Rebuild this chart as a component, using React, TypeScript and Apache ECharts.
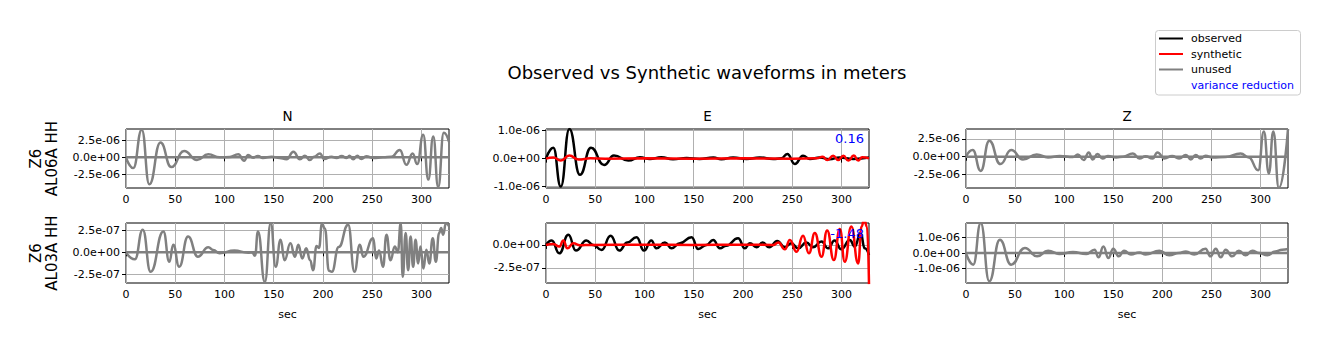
import React, { useEffect, useRef } from 'react';
import * as echarts from 'echarts';

// ---------- data ----------
const TIME_TICKS = [0, 50, 100, 150, 200, 250, 300];
const T_MAX = 328;
const COMPONENTS = ['N', 'E', 'Z'];
const STATIONS = ['Z6\nAL06A HH', 'Z6\nAL03A HH'];
const LEGEND_ITEMS = ['observed', 'synthetic', 'unused', 'variance reduction'];

// Row 1 (AL06A), values in 1e-6 m
const N1_OBS = [[0,0],[7.4,-1.6],[16,4.1],[23.7,-4.0],[35,2.2],[46,-1.45],[59,0.92],[72,-0.4],[83.6,0.44],[95,0],[105.5,0.05],[114,0.44],[120,-0.5],[124,0.34],[129,-0.05],[134,0.2],[139,-0.1],[148,0.1],[156,-0.1],[163,-0.3],[170,0.83],[176.6,-0.3],[181.7,0.25],[186.7,-0.4],[191,0.1],[197,0.58],[201,-0.25],[208.7,0.1],[213.8,-0.1],[219,0.2],[224,-0.1],[227,0.25],[230.7,-0.3],[234.8,0.25],[239,-0.25],[244,0.15],[251,-0.1],[261,0],[269.6,0.1],[278,1.07],[284.8,-1.1],[291,0.58],[295.7,-1.0],[301.8,3.35],[307,-3.3],[312,3.1],[317,-4.4],[322.7,3.64],[328,2.3]];
const N1_SYN = [[0,0],[328,0]];
const E1_OBS = [[0,0],[7.4,0.39],[15,-1.0],[23.7,1.06],[34.5,-0.58],[45.7,0.39],[59,-0.23],[69,0.11],[83.6,-0.07],[95.4,0.05],[105.5,-0.01],[117,0.05],[129,-0.02],[142.8,0.02],[156,-0.01],[170,0.04],[178,-0.02],[190,0.04],[203.7,-0.01],[217,0.04],[230.7,-0.01],[239,0.01],[245,0.17],[252.7,-0.19],[261,0.1],[268,-0.01],[278,0.04],[288,-0.02],[298,0.04],[312,-0.01],[328,0.04]];
const E1_SYN = [[0,0],[7.4,0.04],[15,-0.07],[23.7,0.11],[33,-0.03],[45,0.01],[60,0],[100,0.01],[150,0],[200,0.01],[250,0],[275,0.01],[281,0.07],[285.5,-0.05],[291.6,0.1],[296.7,-0.05],[302,0.1],[307,-0.07],[312.6,0.11],[317,-0.07],[321,0.05],[328,0.01]];
const Z1_OBS = [[0,0],[6.8,0.94],[15,-2.0],[23.7,2.26],[35,-1.04],[46,0.94],[58,-0.38],[72,0.33],[83.6,-0.1],[95.4,0.1],[109,-0.05],[114,0.33],[120,-0.47],[125,0.61],[129,-0.38],[134,0.38],[139,-0.25],[144.5,0.1],[153,-0.1],[160,0],[170,0.47],[176.6,-0.25],[183,0.05],[190,-0.25],[195,0.61],[202,-0.25],[210,0.1],[217,-0.25],[224,0.24],[229,-0.38],[234,0.24],[239,-0.25],[244,0.14],[251,-0.1],[264.5,-0.05],[279.8,0.47],[288,-0.1],[297.7,-1.9],[303.4,3.54],[308.5,-2.36],[313,3.54],[318.7,-4.4],[328,3.9]];
const Z1_SYN = [[0,0],[328,0]];

// Row 2 (AL03A), N and E in 1e-7 m, Z in 1e-6 m
const N2_OBS = [[0,0],[9,-0.8],[17,2.58],[25,-2.23],[38,2.38],[44,-1.08],[48,0.85],[54,-1.65],[63,1.8],[73,-0.5],[83.6,0.58],[88.6,0.27],[95,-0.1],[110,0.2],[124,-0.04],[128,0],[131,-0.4],[134,2.38],[141,-3.38],[147,3.35],[152,-1.65],[157,1.42],[161,-0.9],[167,1.04],[171.5,-0.5],[175,0.85],[179,-0.7],[183,0.46],[187,-0.9],[190,-2.04],[193.5,0.73],[196,0.5],[199,3.27],[202,2.7],[206,-2.1],[209,-2.23],[216,0.6],[225.6,3.15],[232,-2.23],[237.5,0.85],[241,-0.5],[251,1.6],[254,-0.7],[257,0.2],[261,-1.65],[264.5,2.0],[268.6,-0.9],[273,0.65],[276,0],[279,3.35],[281,-2.8],[284,2.2],[286.5,-2.04],[289,1.8],[291.6,-1.65],[294,1.42],[296.7,-1.27],[299,0.65],[302,-1.85],[305,0.3],[308,-1.27],[311.5,1.6],[314.6,-1.08],[318,2.2],[320,2.77],[322,2.0],[325,3.35],[328,2.96]];
const N2_SYN = [[0,0],[328,0]];
const E2_OBS = [[0,0],[5.8,0.48],[13.5,-0.92],[22.7,1.1],[30.4,-0.62],[41,0.48],[48,0],[56.5,-0.55],[65.6,1.0],[74.4,-0.62],[82.5,0.26],[92,0.85],[99.5,-0.62],[107,0.48],[112,-0.37],[120.8,0.26],[127.5,-0.37],[136,0.18],[147.8,0.85],[154.6,-0.44],[163,0],[169.8,0.55],[176.6,-0.37],[183,-0.1],[195,0.73],[202,-0.37],[207,0.18],[213.8,-0.26],[220,0.26],[226.7,-0.26],[234.8,0.44],[242.6,-0.26],[249,0.18],[256,-0.37],[264.5,0.26],[271,-0.26],[279.8,0.37],[286.5,-0.37],[293,0.48],[300,-0.48],[308.5,0.55],[313.6,-0.18],[319.4,1.29],[323.7,-0.37],[328,-1.1]];
const E2_SYN = [[0,0],[7.4,0.1],[13.5,-0.18],[17.6,0.48],[21.7,-0.37],[27.7,0.18],[34.5,-0.04],[45,0],[100,0.02],[150,0],[200,0.02],[230.7,0],[236,0.26],[242.6,-0.48],[247.6,0.55],[254.4,-0.74],[261,1.0],[267,-0.92],[273,1.29],[279.8,-1.29],[285.5,1.58],[292.3,-1.65],[298.4,1.73],[303.4,-1.84],[310,2.02],[317,-2.02],[320.5,2.0],[323,2.8],[326,2.0],[328,-4.3]];
const Z2_OBS = [[0,0],[7.4,-0.76],[15,1.96],[23.7,-1.85],[34.5,0.87],[46,-0.76],[60,0.33],[72.4,-0.22],[83.6,0.15],[95.4,-0.06],[109,0.06],[122.5,-0.06],[131,0.22],[135,-0.28],[140,0.43],[145,-0.33],[150,0.28],[155.6,-0.22],[161,0.15],[168,-0.1],[176.6,0.04],[183,-0.1],[197,0.15],[207,-0.15],[217,0],[224,0.1],[232.4,-0.1],[244,0.28],[249,-0.22],[254.4,0.28],[259.5,-0.28],[264.5,0.22],[271,-0.22],[278,0.15],[284.8,-0.15],[291.6,0.15],[298.4,0],[307,-0.15],[315,0.1],[322,0.22],[328,0.26]];
const Z2_SYN = [[0,0],[328,0]];

// axis limits and ticks (in each panel's unit)
const UNITS = [[1e-6, 1e-6, 1e-6], [1e-7, 1e-7, 1e-6]];
const Y_LIMITS = [[[-4.55, 4.2], [-1.05, 1.06], [-4.4, 3.9]], [[-3.5, 3.34], [-4.15, 2.39], [-1.96, 1.96]]];
const Y_TICKS = [[[-2.5, 0, 2.5], [-1, 0, 1], [-2.5, 0, 2.5]], [[-2.5, 0, 2.5], [-2.5, 0], [-1, 0, 1]]];
const OBSERVED = [[N1_OBS, E1_OBS, Z1_OBS], [N2_OBS, E2_OBS, Z2_OBS]];
const SYNTHETIC = [[N1_SYN, E1_SYN, Z1_SYN], [N2_SYN, E2_SYN, Z2_SYN]];
const USED = [[false, true, false], [false, true, false]];
const VARIANCE_REDUCTION = [[null, '0.16', null], [null, '-1.48', null]];

// ---------- layout ----------
const FONT = 'DejaVu Sans';
const COL_LEFT = [126, 546, 966];
const COL_WIDTH = [323, 323, 322];
const ROW_TOP = [129, 223];
const ROW_HEIGHT = [59, 60];

const fmt = (v: number) => {
  if (Math.abs(v) < 1e-20) return '0.0e+00';
  const s = v.toExponential(1);
  const [m, e] = s.split('e');
  const sign = e[0] === '-' ? '-' : '+';
  const digits = e.replace(/[+-]/, '').padStart(2, '0');
  return `${m}e${sign}${digits}`;
};

export default function App() {
  const ref = useRef<HTMLDivElement>(null);
  useEffect(() => {
    if (!ref.current) return;
    const chart = echarts.init(ref.current, undefined, { renderer: 'svg' });
    const grids: any[] = [];
    const xAxes: any[] = [];
    const yAxes: any[] = [];
    const series: any[] = [];
    const graphics: any[] = [];
    let idx = 0;
    for (let r = 0; r < 2; r++) {
      for (let c = 0; c < 3; c++) {
        const unit = UNITS[r][c];
        grids.push({
          left: COL_LEFT[c], top: ROW_TOP[r], width: COL_WIDTH[c], height: ROW_HEIGHT[r],
          show: true, borderColor: '#000', borderWidth: 1, backgroundColor: 'transparent', containLabel: false,
        });
        xAxes.push({
          type: 'value', gridIndex: idx, min: 0, max: T_MAX,
          axisLine: { show: false },
          axisTick: { show: true, customValues: TIME_TICKS, length: 4, lineStyle: { color: '#000', width: 1 } },
          axisLabel: { customValues: TIME_TICKS, fontSize: 11, color: '#000', margin: 6, fontFamily: FONT },
          splitLine: { show: true, lineStyle: { color: '#b0b0b0', width: 1 } },
          name: r === 1 ? 'sec' : '', nameLocation: 'middle', nameGap: 26,
          nameTextStyle: { fontSize: 11, color: '#000', fontFamily: FONT },
        });
        yAxes.push({
          type: 'value', gridIndex: idx, min: Y_LIMITS[r][c][0], max: Y_LIMITS[r][c][1],
          axisLine: { show: false },
          axisTick: { show: true, customValues: Y_TICKS[r][c], length: 4, lineStyle: { color: '#000', width: 1 } },
          axisLabel: { customValues: Y_TICKS[r][c], fontSize: 11, color: '#000', margin: 6, fontFamily: FONT,
            formatter: (v: number) => fmt(v * unit) },
          splitLine: { show: true, lineStyle: { color: '#b0b0b0', width: 1 } },
        });
        const used = USED[r][c];
        series.push({
          type: 'line', name: used ? 'observed' : 'unused', xAxisIndex: idx, yAxisIndex: idx,
          data: OBSERVED[r][c], showSymbol: false, symbol: 'none', smooth: 0.5, smoothMonotone: 'x',
          lineStyle: { color: used ? '#000000' : '#808080', width: 2.5 }, clip: true, silent: true, z: 2,
        });
        series.push({
          type: 'line', name: used ? 'synthetic' : 'unused', xAxisIndex: idx, yAxisIndex: idx,
          data: SYNTHETIC[r][c], showSymbol: false, symbol: 'none', smooth: 0.5, smoothMonotone: 'x',
          lineStyle: { color: used ? '#ff0000' : '#808080', width: 2.5 }, clip: true, silent: true, z: 3,
        });
        const vr = VARIANCE_REDUCTION[r][c];
        if (vr) {
          graphics.push({
            type: 'text', x: COL_LEFT[c] + COL_WIDTH[c] - 5, y: ROW_TOP[r] + (r === 0 ? 9.5 : 10.5), z: 10,
            style: { text: vr, fill: '#0000ff', fontSize: 13, fontFamily: FONT, align: 'right', verticalAlign: 'middle' },
          });
        }
        if (r === 0) {
          graphics.push({
            type: 'text', x: COL_LEFT[c] + COL_WIDTH[c] / 2, y: 116,
            style: { text: COMPONENTS[c], fill: '#000', fontSize: 13.5, fontFamily: FONT, align: 'center', verticalAlign: 'middle' },
          });
        }
        idx++;
      }
      graphics.push({
        type: 'text', x: 44, y: ROW_TOP[r] + ROW_HEIGHT[r] / 2, rotation: Math.PI / 2,
        style: { text: STATIONS[r], fill: '#000', fontSize: 15, lineHeight: 16, fontFamily: FONT, align: 'center', verticalAlign: 'middle' },
      });
    }
    graphics.push({
      type: 'text', x: 707, y: 72,
      style: { text: 'Observed vs Synthetic waveforms in meters', fill: '#000', fontSize: 18, fontFamily: FONT, align: 'center', verticalAlign: 'middle' },
    });
    // legend
    const legendY = [38.5, 54, 69.5, 85];
    const legendColors = ['#000000', '#ff0000', '#808080', null];
    graphics.push({
      type: 'rect', shape: { x: 1155.5, y: 30.5, width: 145, height: 64.5, r: 3 },
      style: { fill: 'rgba(255,255,255,0.8)', stroke: '#cccccc', lineWidth: 1 }, z: 5,
    });
    LEGEND_ITEMS.forEach((name, i) => {
      const col = legendColors[i];
      if (col) {
        graphics.push({
          type: 'line', shape: { x1: 1159, y1: legendY[i], x2: 1183, y2: legendY[i] },
          style: { stroke: col, lineWidth: 2 }, z: 6,
        });
      }
      graphics.push({
        type: 'text', x: 1191, y: legendY[i], z: 6,
        style: { text: name, fill: col ? '#000' : '#0000ff', fontSize: 11, fontFamily: FONT, align: 'left', verticalAlign: 'middle' },
      });
    });

    chart.setOption({
      animation: false,
      backgroundColor: '#ffffff',
      textStyle: { fontFamily: FONT },
      grid: grids,
      xAxis: xAxes,
      yAxis: yAxes,
      series,
      graphic: graphics,
    });
    return () => chart.dispose();
  }, []);
  return <div ref={ref} style={{ position: 'absolute', left: 0, top: 0, width: 1329, height: 351 }} />;
}
